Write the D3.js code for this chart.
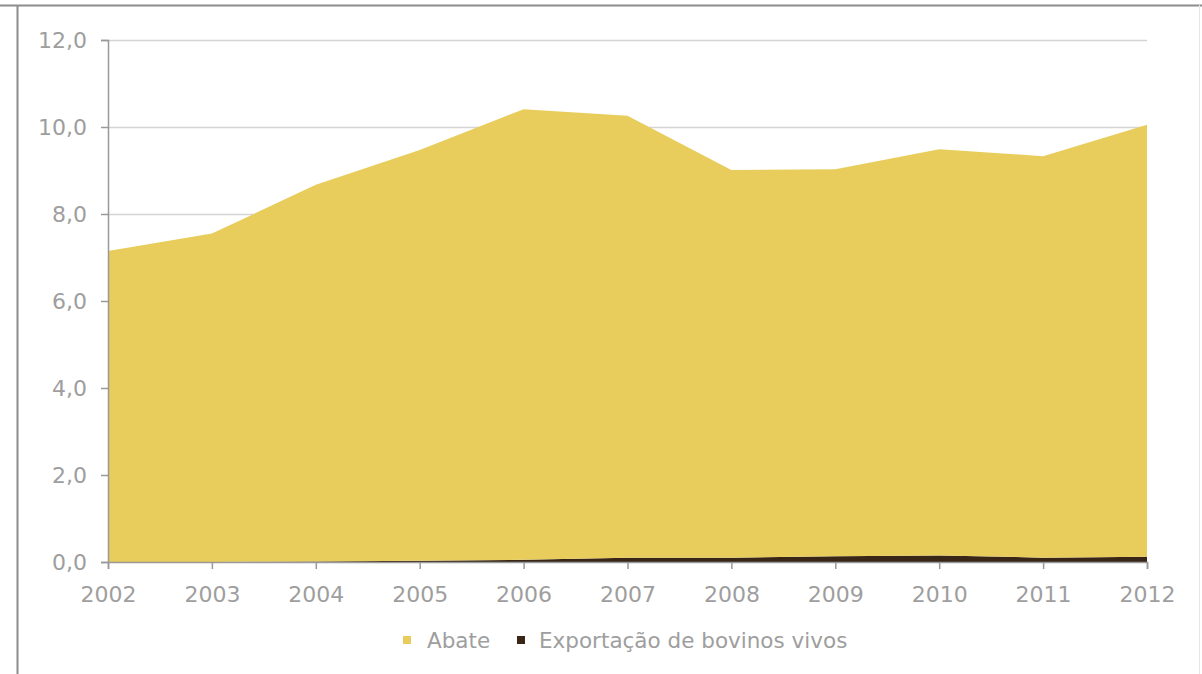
<!DOCTYPE html>
<html>
<head>
<meta charset="utf-8">
<script src="https://cdn.jsdelivr.net/npm/d3@7"></script>
<style>
  html, body { margin: 0; padding: 0; background: #fff; }
  svg { display: block; }
</style>
</head>
<body>
<svg id="chart" width="1202" height="674"></svg>
<script>
const years = [2002, 2003, 2004, 2005, 2006, 2007, 2008, 2009, 2010, 2011, 2012];
const exportacao = [0.0, 0.0, 0.01, 0.03, 0.05, 0.10, 0.10, 0.13, 0.15, 0.10, 0.12];
const abate = [7.15, 7.55, 8.66, 9.44, 10.36, 10.16, 8.91, 8.90, 9.34, 9.23, 9.93];
const yTicks = [0, 2, 4, 6, 8, 10, 12];
const seriesNames = ["Exportação de bovinos vivos", "Abate"];
const legendNames = ["Abate", "Exportação de bovinos vivos"];

const colors = { "Abate": "#e8cd5c", "Exportação de bovinos vivos": "#3a2617" };
const textColor = "#9e9e9e";
const font = "'DejaVu Sans', sans-serif";

const svg = d3.select("#chart");
const W = 1202, H = 674;
const margin = { left: 108, right: 1202 - 1147, top: 40, bottom: 674 - 562 };

// frame
svg.append("line").attr("x1", 0).attr("x2", W).attr("y1", 5.5).attr("y2", 5.5)
  .attr("stroke", "#8c8c8c").attr("stroke-width", 2);
svg.append("line").attr("x1", 17.5).attr("x2", 17.5).attr("y1", 5).attr("y2", H)
  .attr("stroke", "#8c8c8c").attr("stroke-width", 2);
svg.append("line").attr("x1", 1199.5).attr("x2", 1199.5).attr("y1", 5).attr("y2", H)
  .attr("stroke", "#e6e6e6").attr("stroke-width", 1);

const x = d3.scaleLinear().domain([2002, 2012]).range([margin.left, W - margin.right]);
const y = d3.scaleLinear().domain([0, 12]).range([H - margin.bottom, margin.top]);

// gridlines
svg.append("g").selectAll("line").data(yTicks.filter(d => d > 0)).join("line")
  .attr("x1", x(2002)).attr("x2", x(2012))
  .attr("y1", d => Math.round(y(d)) + 0.5).attr("y2", d => Math.round(y(d)) + 0.5)
  .attr("stroke", "#d4d4d4").attr("stroke-width", 1.5);

// stacked area
const table = years.map((yr, i) => ({ year: yr, "Abate": abate[i], "Exportação de bovinos vivos": exportacao[i] }));
const stack = d3.stack().keys(seriesNames);
const layers = stack(table);
const area = d3.area()
  .x(d => x(d.data.year))
  .y0(d => y(d[0]))
  .y1(d => y(d[1]));
svg.append("g").selectAll("path").data(layers).join("path")
  .attr("d", area)
  .attr("fill", d => colors[d.key]);

// y axis
const yAxis = d3.axisLeft(y).tickValues(yTicks)
  .tickFormat(d => d3.format(".1f")(d).replace(".", ","))
  .tickSize(7).tickPadding(14);
const gy = svg.append("g").attr("transform", `translate(${x(2002)},0)`).call(yAxis);
gy.select(".domain").attr("stroke", "#999").attr("stroke-width", 1.5);
gy.selectAll(".tick line").attr("stroke", "#999").attr("stroke-width", 1.5);
gy.selectAll("text").attr("fill", textColor).attr("font-family", font).attr("font-size", 22);

// x axis
const xAxis = d3.axisBottom(x).tickValues(years).tickFormat(d3.format("d"))
  .tickSize(7).tickPadding(17);
const gx = svg.append("g").attr("transform", `translate(0,${y(0)})`).call(xAxis);
gx.select(".domain").attr("stroke", "#999").attr("stroke-width", 1.5);
gx.selectAll(".tick line").attr("stroke", "#999").attr("stroke-width", 1.5);
gx.selectAll("text").attr("fill", textColor).attr("font-family", font).attr("font-size", 22);

// legend
const legend = svg.append("g").attr("transform", "translate(0,640)");
const items = [
  { name: legendNames[0], sx: 403, tx: 427 },
  { name: legendNames[1], sx: 517, tx: 539 }
];
items.forEach(it => {
  legend.append("rect").attr("x", it.sx).attr("y", -4).attr("width", 8).attr("height", 8)
    .attr("fill", colors[it.name]);
  legend.append("text").attr("x", it.tx).attr("y", 0).attr("dy", "0.35em")
    .attr("fill", textColor).attr("font-family", font).attr("font-size", 21.5)
    .text(it.name);
});
</script>
</body>
</html>
